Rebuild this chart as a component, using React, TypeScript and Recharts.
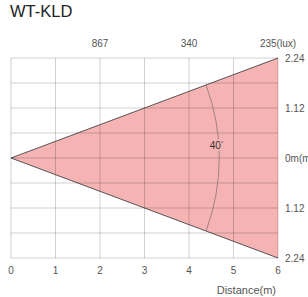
import React from 'react';
import { ComposedChart, Area, XAxis, YAxis, CartesianGrid, ReferenceDot, Label } from 'recharts';

// distance axis (m)
const distanceTicks = [0, 1, 2, 3, 4, 5, 6];
// illuminance readings on top axis
const luxTicks = [2, 4, 6];
const luxLabels = ['867', '340', '235(lux)'];
// beam half width (m) on the right axis
const widthTicks = [2.24, 1.68, 1.12, 0.56, 0, -0.56, -1.12, -1.68, -2.24];
const widthLabels = ['2.24', '', '1.12', '', '0m(m)', '', '1.12', '', '2.24'];
// beam cone
const coneDistance = [0, 6];
const coneHalfWidth = [0, 2.24];
const beamAngle = '40';
const arcRadius = 4.68;

const W = 308;
const H = 297;
const M = { top: 38, right: 0, bottom: 1, left: 11 };
const TOP_AXIS_H = 20;
const BOTTOM_AXIS_H = 38;
const RIGHT_AXIS_W = 30;
const plotW = W - M.left - M.right - RIGHT_AXIS_W;
const plotH = H - M.top - M.bottom - TOP_AXIS_H - BOTTOM_AXIS_H;

const data = coneDistance.map((d, i) => ({ x: d, range: [-coneHalfWidth[i], coneHalfWidth[i]] }));

const tickStyle = { fill: '#555', fontSize: 10 };
const pink = '#f5b3b3';

const ArcShape = (props: any) => {
  const { cx, cy } = props;
  const pxX = plotW / 6;
  const pxY = plotH / 4.48;
  const r = arcRadius * pxX;
  const a = Math.atan((2.24 * pxY) / (6 * pxX));
  const x1 = cx + r * Math.cos(a);
  const y1 = cy - r * Math.sin(a);
  const y2 = cy + r * Math.sin(a);
  return (
    <path d={`M${x1},${y1} A${r},${r} 0 0 1 ${x1},${y2}`} fill="none" stroke="#8c7676" strokeWidth={0.8} />
  );
};

const AngleLabel = (props: any) => {
  const { cx, cy } = props;
  return (
    <text x={cx} y={cy} textAnchor="middle" dominantBaseline="central" fontSize={10} fill="#333"
      stroke={pink} strokeWidth={3} paintOrder="stroke">
      {beamAngle}
      <tspan fontSize={6} dy={-3}>°</tspan>
    </text>
  );
};

export default function App() {
  return (
    <div style={{ position: 'absolute', left: 0, top: 0, width: W, height: H, background: '#fff', overflow: 'hidden', fontFamily: '"Liberation Sans", Arial, sans-serif' }}>
      <div style={{ position: 'absolute', left: 10, top: 2, fontSize: 16.5, color: '#222' }}>WT-KLD</div>
      <div style={{ position: 'absolute', left: 0, top: 0 }}>
        <ComposedChart width={W} height={H} data={data} margin={M}>
          <XAxis dataKey="x" type="number" domain={[0, 6]} ticks={distanceTicks} axisLine={false} tickLine={false}
            tickSize={0} tickMargin={9} tick={tickStyle} height={BOTTOM_AXIS_H} interval={0}>
            <Label value="Distance(m)" position="insideBottomRight" offset={2} fill="#555" fontSize={11} />
          </XAxis>
          <XAxis xAxisId="top" dataKey="x" orientation="top" type="number" domain={[0, 6]} ticks={luxTicks} axisLine={false}
            tickLine={false} tickSize={0} tickMargin={11} tick={tickStyle} height={TOP_AXIS_H} interval={0}
            tickFormatter={(v: number) => luxLabels[luxTicks.indexOf(v)]} />
          <YAxis orientation="right" type="number" domain={[-2.24, 2.24]} ticks={widthTicks} axisLine={false}
            tickLine={false} tickSize={0} tickMargin={7} tick={tickStyle} width={RIGHT_AXIS_W} interval={0}
            tickFormatter={(v: number) => widthLabels[widthTicks.indexOf(v)]} />
          <Area dataKey="range" type="linear" fill={pink} fillOpacity={1} stroke="#555" strokeWidth={1}
            isAnimationActive={false} />
          <Area xAxisId="top" dataKey="range" type="linear" fill="none" fillOpacity={0} stroke="none"
            isAnimationActive={false} legendType="none" />
          <CartesianGrid stroke="#000" strokeOpacity={0.18} zIndex={500} />
          <ReferenceDot x={0} y={0} r={0} shape={ArcShape} zIndex={600} />
          <ReferenceDot x={4.62} y={0.28} r={0} shape={AngleLabel} zIndex={700} />
        </ComposedChart>
      </div>
    </div>
  );
}
